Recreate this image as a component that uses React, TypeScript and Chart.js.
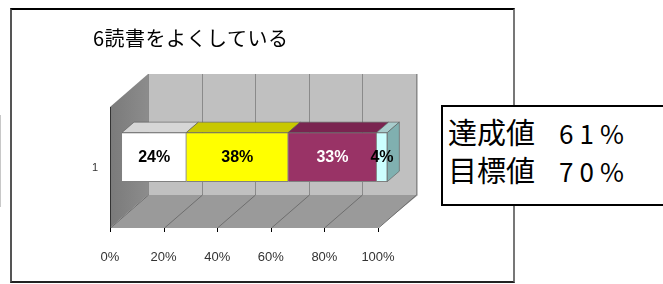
import React, { useEffect, useRef } from "react";
import { Chart, registerables } from "chart.js";

Chart.register(...registerables);

// ---- data ----
const categories = ["1"];
const seriesNames = ["よくしている", "どちらかといえばしている", "あまりしていない", "していない"];
const seriesValues = [[24], [38], [33], [4]];
const dataLabels = ["24%", "38%", "33%", "4%"];
const tickLabels = ["0%", "20%", "40%", "60%", "80%", "100%"];
const titleText = "6読書をよくしている";
const achievedLabel = "達成値";
const achievedValue = "61%";
const targetLabel = "目標値";
const targetValue = "70%";

// ---- styles ----
const frontColors = ["#ffffff", "#ffff00", "#993366", "#ccffff"];
const topColors = ["#d6d6d6", "#c8c800", "#7a2450", "#a8cccc"];
const sideColor = "#80b0b0";
const labelColors = ["#000000", "#000000", "#ffffff", "#000000"];
const NARROW = "'Liberation Sans Narrow', 'Liberation Sans', Arial, sans-serif";
const DEPTH = { x: 38, y: -33 };
const BAR_OFFSET = 0.316;
const BAR_DEPTH = 0.316;

const threeD = {
  id: "threeD",
  beforeDatasetsDraw(chart: any) {
    const { ctx, chartArea: a, scales } = chart;
    const xs = scales.x;
    const dx = DEPTH.x, dy = DEPTH.y;
    const poly = (pts: number[][], fill: string) => {
      ctx.beginPath();
      ctx.moveTo(pts[0][0], pts[0][1]);
      for (let i = 1; i < pts.length; i++) ctx.lineTo(pts[i][0], pts[i][1]);
      ctx.closePath();
      ctx.fillStyle = fill;
      ctx.fill();
    };
    ctx.save();
    // back wall
    poly([[a.left + dx, a.top + dy], [a.right + dx + 2, a.top + dy], [a.right + dx + 2, a.bottom + dy], [a.left + dx, a.bottom + dy]], "#c0c0c0");
    // left wall
    const lg = ctx.createLinearGradient(a.left, 0, a.left + dx, 0);
    lg.addColorStop(0, "#7a7a7a");
    lg.addColorStop(1, "#8c8c8c");
    poly([[a.left, a.top], [a.left + dx, a.top + dy], [a.left + dx, a.bottom + dy], [a.left, a.bottom]], lg);
    // floor
    poly([[a.left, a.bottom], [a.right, a.bottom], [a.right + dx + 2, a.bottom + dy], [a.left + dx, a.bottom + dy]], "#9a9a9a");
    // grid lines
    ctx.lineWidth = 1;
    xs.ticks.forEach((t: any) => {
      const px = Math.round(xs.getPixelForValue(t.value)) + 0.5;
      ctx.strokeStyle = "#8a8a8a";
      ctx.beginPath();
      ctx.moveTo(px + dx, a.top + dy);
      ctx.lineTo(px + dx, a.bottom + dy);
      ctx.stroke();
      ctx.strokeStyle = "#6e6e6e";
      ctx.beginPath();
      ctx.moveTo(px, a.bottom);
      ctx.lineTo(px + dx, a.bottom + dy);
      ctx.stroke();
      ctx.strokeStyle = "#000";
      ctx.beginPath();
      ctx.moveTo(px, a.bottom);
      ctx.lineTo(px, a.bottom + 4);
      ctx.stroke();
    });
    // left wall front edge
    ctx.strokeStyle = "#333";
    ctx.beginPath();
    ctx.moveTo(a.left + 0.5, a.top);
    ctx.lineTo(a.left + 0.5, a.bottom);
    ctx.stroke();
    ctx.restore();
    // bars sit partway into the depth
    ctx.save();
    ctx.translate(dx * BAR_OFFSET, dy * BAR_OFFSET);
  },
  afterDatasetsDraw(chart: any) {
    const { ctx } = chart;
    ctx.restore();
    const ox = DEPTH.x * BAR_OFFSET, oy = DEPTH.y * BAR_OFFSET;
    const bdx = DEPTH.x * BAR_DEPTH, bdy = DEPTH.y * BAR_DEPTH;
    const n = chart.data.datasets.length;
    ctx.save();
    for (let i = 0; i < n; i++) {
      const meta = chart.getDatasetMeta(i);
      meta.data.forEach((el: any) => {
        const p = el.getProps(["x", "base", "y", "height"], true);
        const x0 = Math.min(p.base, p.x) + ox;
        const x1 = Math.max(p.base, p.x) + ox;
        const top = p.y - p.height / 2 + oy;
        const bot = p.y + p.height / 2 + oy;
        ctx.beginPath();
        ctx.moveTo(x0, top);
        ctx.lineTo(x1, top);
        ctx.lineTo(x1 + bdx, top + bdy);
        ctx.lineTo(x0 + bdx, top + bdy);
        ctx.closePath();
        ctx.fillStyle = topColors[i];
        ctx.fill();
        ctx.strokeStyle = "rgba(90,90,90,0.6)";
        ctx.lineWidth = 1;
        ctx.stroke();
        if (i === n - 1) {
          ctx.beginPath();
          ctx.moveTo(x1, top);
          ctx.lineTo(x1 + bdx, top + bdy);
          ctx.lineTo(x1 + bdx, bot + bdy);
          ctx.lineTo(x1, bot);
          ctx.closePath();
          ctx.fillStyle = sideColor;
          ctx.fill();
          ctx.stroke();
        }
      });
    }
    // data labels
    ctx.font = `bold 16px ${NARROW}`;
    ctx.textAlign = "center";
    ctx.textBaseline = "middle";
    for (let i = 0; i < n; i++) {
      const meta = chart.getDatasetMeta(i);
      meta.data.forEach((el: any) => {
        const p = el.getProps(["x", "base", "y"], true);
        ctx.fillStyle = labelColors[i];
        ctx.fillText(dataLabels[i], (p.x + p.base) / 2 + ox, p.y + oy + 1);
      });
    }
    ctx.restore();
  },
};

export default function App() {
  const ref = useRef<HTMLCanvasElement>(null);
  useEffect(() => {
    if (!ref.current) return;
    const chart = new Chart(ref.current, {
      type: "bar",
      data: {
        labels: categories,
        datasets: seriesNames.map((name, i) => ({
          label: name,
          data: seriesValues[i],
          backgroundColor: frontColors[i],
          borderColor: "#808080",
          borderWidth: 1,
          barThickness: 49,
        })),
      },
      options: {
        indexAxis: "y",
        responsive: false,
        animation: false,
        devicePixelRatio: 1,
        layout: { padding: { left: 0, top: 107, right: 285, bottom: 0 } },
        plugins: { legend: { display: false }, tooltip: { enabled: false }, title: { display: false } },
        scales: {
          x: {
            stacked: true,
            min: 0,
            max: 100,
            grid: { display: false, drawTicks: false },
            border: { display: false },
            ticks: {
              stepSize: 20,
              padding: 22,
              color: "#333",
              font: { family: NARROW, size: 13 },
              callback: (_v: any, i: number) => tickLabels[i],
            },
            afterFit: (s: any) => { s.height = 56; },
          },
          y: {
            stacked: true,
            grid: { display: false, drawTicks: false },
            border: { display: false },
            ticks: { padding: 12, color: "#333", font: { family: NARROW, size: 11 } },
            afterFit: (s: any) => { s.width = 110; },
          },
        },
      } as any,
      plugins: [threeD],
    });
    return () => chart.destroy();
  }, []);

  return (
    <div style={{ position: "fixed", left: 0, top: 0, width: 663, height: 284, background: "#fff", overflow: "hidden" }}>
      <div style={{ position: "absolute", left: 0, top: 115, width: 1, height: 92, background: "#c8c8c8" }} />
      <div
        style={{
          position: "absolute", left: 10, top: 8, width: 505, height: 275, boxSizing: "border-box",
          borderTop: "2px solid #000", borderLeft: "2px solid #555", borderRight: "2px solid #777", borderBottom: "2px solid #222",
        }}
      />
      <canvas ref={ref} width={663} height={284} style={{ position: "absolute", left: 0, top: 0, width: 663, height: 284 }} />
      <div
        style={{
          position: "absolute", left: 93, top: 27, fontFamily: "'Noto Sans CJK JP', sans-serif", fontSize: 20,
          lineHeight: "22px", color: "#000", whiteSpace: "nowrap", letterSpacing: 0.5,
        }}
      >
        {titleText}
      </div>
      <div
        style={{
          position: "absolute", left: 441, top: 105, width: 240, height: 101, boxSizing: "border-box",
          border: "2px solid #000", background: "#fff", padding: "5px 0 0 5px",
          fontFamily: "'Noto Sans CJK JP', sans-serif", color: "#000", whiteSpace: "nowrap",
        }}
      >
        <div style={{ height: 38, lineHeight: "38px" }}>
          <span style={{ fontSize: 29 }}>{achievedLabel}</span>
          <span style={{ fontSize: 26, marginLeft: 24, letterSpacing: 6 }}>{achievedValue}</span>
        </div>
        <div style={{ height: 38, lineHeight: "38px" }}>
          <span style={{ fontSize: 29 }}>{targetLabel}</span>
          <span style={{ fontSize: 26, marginLeft: 24, letterSpacing: 6 }}>{targetValue}</span>
        </div>
      </div>
    </div>
  );
}
